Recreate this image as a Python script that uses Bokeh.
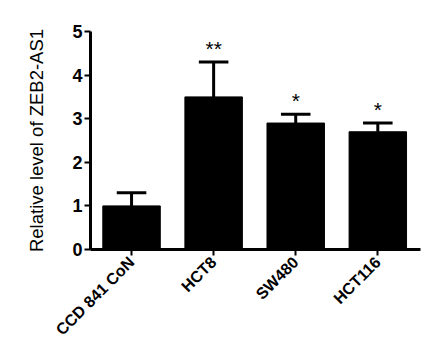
import math
from bokeh.plotting import figure
from bokeh.models import ColumnDataSource, FixedTicker, Range1d
from bokeh.core.properties import value
from bokeh.embed import file_html
from bokeh.resources import INLINE

categories = ["CCD 841 CoN", "HCT8", "SW480", "HCT116"]
means = [1.0, 3.5, 2.9, 2.7]
errors = [0.3, 0.8, 0.2, 0.2]
stars = ["", "**", "*", "*"]
y_ticks = [0, 1, 2, 3, 4, 5]

xs = list(range(len(categories)))
upper = [m + e for m, e in zip(means, errors)]
cap = 0.18

src = ColumnDataSource(dict(
    x=xs, top=means, upper=upper,
    x0=[x - cap for x in xs], x1=[x + cap for x in xs],
    star=stars, stary=[u + 0.05 for u in upper],
))

W, H = 424, 350
p = figure(width=W, height=H, output_backend="svg", toolbar_location=None,
           x_range=Range1d(-0.5, 3.52), y_range=Range1d(0, 5),
           min_border_left=90, min_border_right=W - 420, min_border_top=31, min_border_bottom=H - 249)
p.outline_line_color = None
p.xgrid.visible = False
p.ygrid.visible = False

p.vbar(x="x", top="top", bottom=0, width=0.7, source=src, fill_color="black", line_color="black")
p.segment(x0="x", y0="top", x1="x", y1="upper", source=src, line_color="black", line_width=3)
p.segment(x0="x0", y0="upper", x1="x1", y1="upper", source=src, line_color="black", line_width=3)
p.text(x="x", y="stary", text="star", source=src, text_align="center", text_baseline="bottom",
       text_font=value("Liberation Sans"), text_font_size="21px", text_color="black")

p.xaxis.ticker = FixedTicker(ticks=xs)
p.xaxis.major_label_overrides = {i: c for i, c in enumerate(categories)}
p.xaxis.major_label_orientation = math.pi / 4
p.yaxis.ticker = FixedTicker(ticks=y_ticks)
p.yaxis.axis_label = "Relative level of ZEB2-AS1"

for ax in (p.xaxis, p.yaxis):
    ax.axis_line_width = 3
    ax.axis_line_color = "black"
    ax.major_tick_line_width = 2
    ax.major_tick_line_color = "black"
    ax.major_tick_out = 6
    ax.major_tick_in = 0
    ax.minor_tick_line_color = None
    ax.major_label_text_font = "Liberation Sans"
    ax.major_label_text_font_style = "bold"
    ax.major_label_text_color = "black"

p.yaxis.major_label_text_font_size = "18px"
p.xaxis.major_label_text_font_size = "16px"
p.xaxis.major_label_standoff = 4
p.yaxis.major_label_standoff = 2
p.yaxis.axis_label_text_font = "Liberation Sans"
p.yaxis.axis_label_text_font_style = "normal"
p.yaxis.axis_label_text_font_size = "18.5px"
p.yaxis.axis_label_text_color = "black"
p.yaxis.axis_label_standoff = 22

open("out.html", "w").write(file_html(p, INLINE))
